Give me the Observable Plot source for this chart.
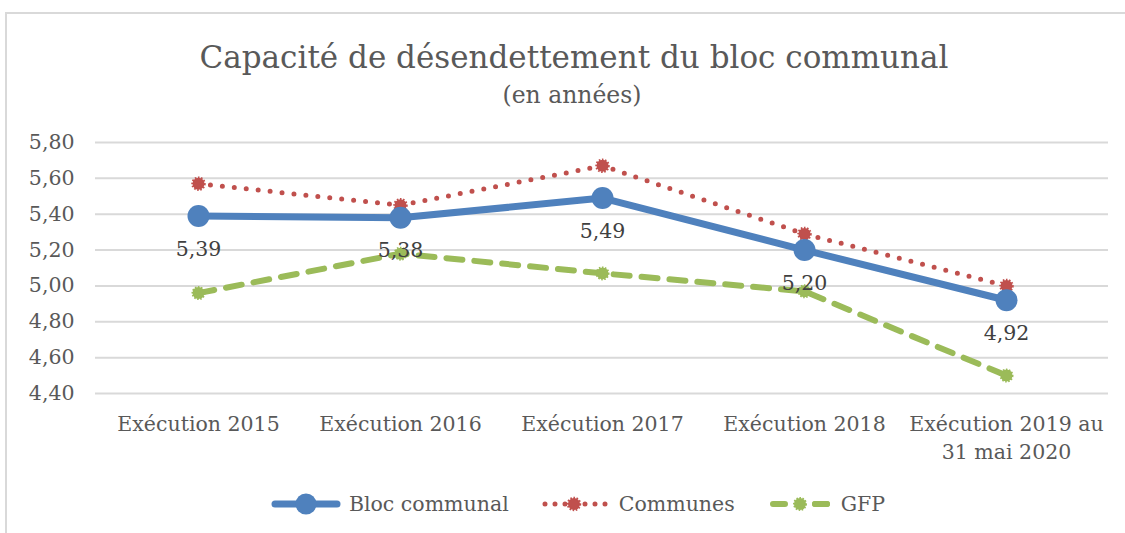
<!DOCTYPE html>
<html><head><meta charset="utf-8">
<script src="https://cdn.jsdelivr.net/npm/d3@7"></script>
<script src="https://cdn.jsdelivr.net/npm/@observablehq/plot@0.6"></script>
<style>
body{margin:0;background:#fff;}
#wrap{position:relative;width:1125px;height:533px;overflow:hidden;font-family:"DejaVu Serif",serif;color:#595959;}
#frame{position:absolute;left:5px;top:12px;width:1200px;height:600px;border:2px solid #d9d9d9;box-sizing:border-box;}
#title{position:absolute;left:0;width:1148px;top:37px;text-align:center;font-size:31px;line-height:40px;}
#subtitle{position:absolute;left:0;width:1144px;top:80px;text-align:center;font-size:23.5px;line-height:30px;}
#chart{position:absolute;left:0;top:0;}
#legend{position:absolute;left:0;width:1156px;top:491px;display:flex;justify-content:center;align-items:center;font-size:20.5px;}
.item{display:flex;align-items:center;margin:0 16px;}
.item svg{margin-right:8px;}
</style></head>
<body>
<div id="wrap">
  <div id="frame"></div>
  <div id="chart"></div>
  <div id="title">Capacité de désendettement du bloc communal</div>
  <div id="subtitle">(en années)</div>
  <div id="legend"></div>
</div>
<script>
const categories = ["Exécution 2015","Exécution 2016","Exécution 2017","Exécution 2018","Exécution 2019 au\n31 mai 2020"];
const blocCommunal = [5.39,5.38,5.49,5.20,4.92];
const communes = [5.57,5.45,5.67,5.29,5.00];
const gfp = [4.96,5.18,5.07,4.97,4.50];
const yTicks = [4.40,4.60,4.80,5.00,5.20,5.40,5.60,5.80];
const seriesNames = ["Bloc communal","Communes","GFP"];
const colors = ["#4F81BD","#C0504D","#9BBB59"];

const fmt = v => v.toFixed(2).replace(".", ",");
const rows = (vals) => categories.map((c,i)=>({cat:c, v:vals[i]}));
const dBloc = rows(blocCommunal), dCom = rows(communes), dGfp = rows(gfp);

const plot = Plot.plot({
  width: 1125, height: 470,
  marginLeft: 95, marginRight: 17, marginTop: 142, marginBottom: 77,
  style: {background:"transparent", fontFamily:'"DejaVu Serif", serif', color:"#595959"},
  x: {type:"point", domain: categories, padding: 0.5, label: null},
  y: {domain:[4.40,5.80], label:null},
  marks: [
    Plot.ruleY(yTicks, {stroke:"#d9d9d9", strokeWidth:2}),
    Plot.axisY({ticks: yTicks, tickFormat: fmt, tickSize:0, tickPadding:21, fontSize:20.5, fill:"#595959", label:null}),
    Plot.axisX({tickSize:0, tickPadding:18, fontSize:20.5, fill:"#595959", lineHeight:1.35, label:null}),
    Plot.line(dGfp, {x:"cat", y:"v", stroke:colors[2], strokeWidth:6, strokeDasharray:"16,12", strokeLinecap:"round"}),
    Plot.dot(dGfp, {x:"cat", y:"v", r:6, fill:colors[2], stroke:colors[2], strokeWidth:2, strokeDasharray:"1.5,1.5"}),
    Plot.line(dCom, {x:"cat", y:"v", stroke:colors[1], strokeWidth:5, strokeDasharray:"0,12", strokeLinecap:"round"}),
    Plot.dot(dCom, {x:"cat", y:"v", r:6, fill:colors[1], stroke:colors[1], strokeWidth:2.5, strokeDasharray:"1.5,1.5"}),
    Plot.line(dBloc, {x:"cat", y:"v", stroke:colors[0], strokeWidth:7}),
    Plot.dot(dBloc, {x:"cat", y:"v", r:11, fill:colors[0]}),
    Plot.text(dBloc, {x:"cat", y:"v", text: d=>fmt(d.v), dy:33, fontSize:20.5, fill:"#404040"})
  ]
});
document.getElementById("chart").appendChild(plot);

// legend
const legend = document.getElementById("legend");
const swatches = [
  `<svg width="70" height="26"><line x1="4" y1="13" x2="66" y2="13" stroke="${colors[0]}" stroke-width="7" stroke-linecap="round"/><circle cx="35" cy="13" r="10.5" fill="${colors[0]}"/></svg>`,
  `<svg width="70" height="26"><line x1="4" y1="13" x2="66" y2="13" stroke="${colors[1]}" stroke-width="5" stroke-dasharray="0,10" stroke-linecap="round"/><circle cx="33" cy="13" r="6" fill="${colors[1]}" stroke="${colors[1]}" stroke-width="2.5" stroke-dasharray="1.5,1.5"/></svg>`,
  `<svg width="66" height="26"><line x1="6" y1="13" x2="60" y2="13" stroke="${colors[2]}" stroke-width="6" stroke-dasharray="12,30" stroke-linecap="round"/><line x1="48" y1="13" x2="60" y2="13" stroke="${colors[2]}" stroke-width="6" stroke-linecap="round"/><circle cx="33" cy="13" r="6" fill="${colors[2]}" stroke="${colors[2]}" stroke-width="2" stroke-dasharray="1.5,1.5"/></svg>`
];
seriesNames.forEach((n,i)=>{
  const it = document.createElement("div");
  it.className = "item";
  it.innerHTML = swatches[i] + `<span>${n}</span>`;
  legend.appendChild(it);
});
</script>
</body></html>
